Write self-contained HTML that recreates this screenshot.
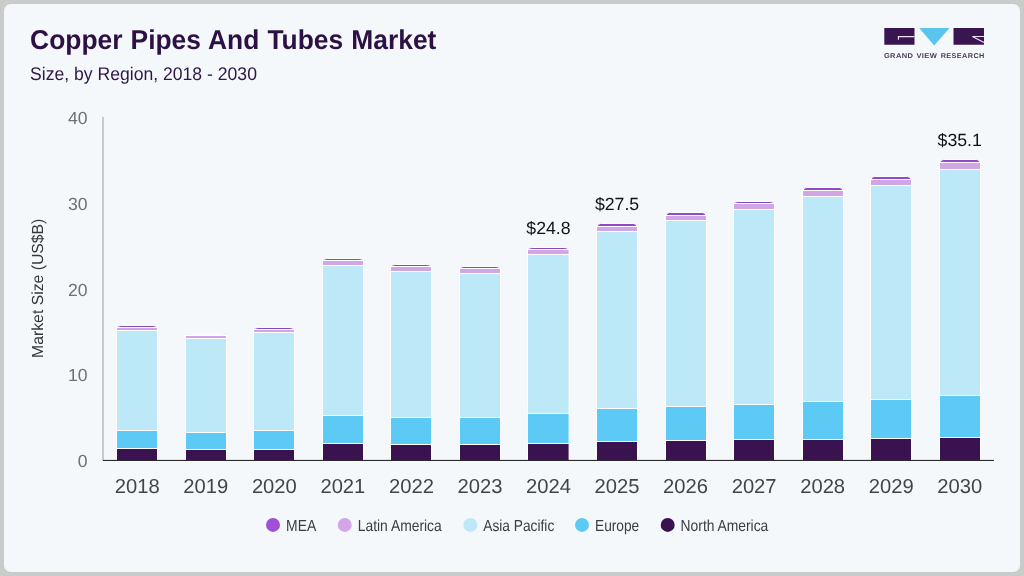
<!DOCTYPE html>
<html><head><meta charset="utf-8"><title>Copper Pipes And Tubes Market</title>
<style>
html,body{margin:0;padding:0;}
body{width:1024px;height:576px;background:#cacccc;overflow:hidden;font-family:"Liberation Sans",sans-serif;}
.card{position:absolute;left:4px;top:4px;width:1016px;height:568px;background:#f5f8fb;border-radius:7px;}
svg{position:absolute;left:0;top:0;will-change:transform;}
text{font-family:"Liberation Sans",sans-serif;text-rendering:geometricPrecision;}
</style></head><body>
<div class="card"></div>
<svg width="1024" height="576" viewBox="0 0 1024 576">
<text transform="translate(30.1,49.1) scale(1,1.033)" font-size="26.4" font-weight="bold" fill="#2c1144" word-spacing="0.75">Copper Pipes And Tubes Market</text>
<text transform="translate(30,79.8) scale(1,1.04)" font-size="17.6" fill="#2f1846">Size, by Region, 2018 - 2030</text>
<!-- logo -->
<g>
<rect x="884.3" y="27.9" width="30.2" height="16.9" rx="0.4" fill="#3a1650"/>
<path d="M914.5 36.55H898.4V39.8" fill="none" stroke="#efdff9" stroke-width="1.15"/>
<path d="M919.2 27.9H949.5L934.2 45.4Z" fill="#5bc4ee"/>
<rect x="953.5" y="27.9" width="30.5" height="16.9" rx="0.4" fill="#3a1650"/>
<path d="M984 36.5H972.4L984 42.6" fill="none" stroke="#efdff9" stroke-width="1.15"/>
<g font-size="7" font-weight="bold" fill="#4a3a5c" letter-spacing="0.35"><text x="883.9" y="57.6" textLength="29.4" lengthAdjust="spacingAndGlyphs">GRAND</text><text x="916.4" y="57.6" textLength="20.9" lengthAdjust="spacingAndGlyphs">VIEW</text><text x="940.7" y="57.6" textLength="44.0" lengthAdjust="spacingAndGlyphs">RESEARCH</text></g>
</g>
<!-- axes -->
<rect x="102" y="117" width="2" height="343.5" fill="#c6cacd"/>
<g stroke="#ffffff" stroke-width="1">
<g><path d="M117.2,327.5V327.5Q117.2,325.5 121.7,325.5H152.3Q156.8,325.5 156.8,327.5V327.5Z" fill="#8a48b8"/><rect x="116.5" y="327.5" width="41" height="3.0" fill="#d1a6e7"/><rect x="116.5" y="330.5" width="41" height="100.0" fill="#bde8f8"/><rect x="116.5" y="430.5" width="41" height="18.0" fill="#5ccaf4"/><rect x="116.5" y="448.5" width="41" height="12.0" fill="#3a1250"/></g>
<g><path d="M186.2,335.5V335.5Q186.2,334.5 190.7,334.5H221.3Q225.8,334.5 225.8,335.5V335.5Z" fill="#8a48b8"/><rect x="185.5" y="335.5" width="41" height="3.0" fill="#d1a6e7"/><rect x="185.5" y="338.5" width="41" height="94.0" fill="#bde8f8"/><rect x="185.5" y="432.5" width="41" height="17.0" fill="#5ccaf4"/><rect x="185.5" y="449.5" width="41" height="11.0" fill="#3a1250"/></g>
<g><path d="M254.2,329.5V329.5Q254.2,327.5 258.7,327.5H289.3Q293.8,327.5 293.8,329.5V329.5Z" fill="#8a48b8"/><rect x="253.5" y="329.5" width="41" height="3.0" fill="#d1a6e7"/><rect x="253.5" y="332.5" width="41" height="98.0" fill="#bde8f8"/><rect x="253.5" y="430.5" width="41" height="19.0" fill="#5ccaf4"/><rect x="253.5" y="449.5" width="41" height="11.0" fill="#3a1250"/></g>
<g><path d="M323.2,260.5V260.5Q323.2,258.5 327.7,258.5H358.3Q362.8,258.5 362.8,260.5V260.5Z" fill="#8a48b8"/><rect x="322.5" y="260.5" width="41" height="5.0" fill="#d1a6e7"/><rect x="322.5" y="265.5" width="41" height="150.0" fill="#bde8f8"/><rect x="322.5" y="415.5" width="41" height="28.0" fill="#5ccaf4"/><rect x="322.5" y="443.5" width="41" height="17.0" fill="#3a1250"/></g>
<g><path d="M391.2,266.5V266.5Q391.2,264.5 395.7,264.5H426.3Q430.8,264.5 430.8,266.5V266.5Z" fill="#8a48b8"/><rect x="390.5" y="266.5" width="41" height="5.0" fill="#d1a6e7"/><rect x="390.5" y="271.5" width="41" height="146.0" fill="#bde8f8"/><rect x="390.5" y="417.5" width="41" height="27.0" fill="#5ccaf4"/><rect x="390.5" y="444.5" width="41" height="16.0" fill="#3a1250"/></g>
<g><path d="M460.2,268.5V268.5Q460.2,266.5 464.7,266.5H495.3Q499.8,266.5 499.8,268.5V268.5Z" fill="#8a48b8"/><rect x="459.5" y="268.5" width="41" height="5.0" fill="#d1a6e7"/><rect x="459.5" y="273.5" width="41" height="144.0" fill="#bde8f8"/><rect x="459.5" y="417.5" width="41" height="27.0" fill="#5ccaf4"/><rect x="459.5" y="444.5" width="41" height="16.0" fill="#3a1250"/></g>
<g><path d="M528.2,249.5V249.5Q528.2,247.5 532.7,247.5H563.9Q568.4,247.5 568.4,249.5V249.5Z" fill="#8a48b8"/><rect x="527.5" y="249.5" width="41.6" height="5.0" fill="#d1a6e7"/><rect x="527.5" y="254.5" width="41.6" height="159.0" fill="#bde8f8"/><rect x="527.5" y="413.5" width="41.6" height="30.0" fill="#5ccaf4"/><rect x="527.5" y="443.5" width="41.6" height="17.0" fill="#3a1250"/></g>
<g><path d="M597.2,226.5V226.5Q597.2,223.5 600.7,223.5H633.3Q636.8,223.5 636.8,226.5V226.5Z" fill="#9646c8"/><rect x="596.5" y="226.5" width="41" height="5.0" fill="#d1a6e7"/><rect x="596.5" y="231.5" width="41" height="177.0" fill="#bde8f8"/><rect x="596.5" y="408.5" width="41" height="33.0" fill="#5ccaf4"/><rect x="596.5" y="441.5" width="41" height="19.0" fill="#3a1250"/></g>
<g><path d="M666.2,215.5V215.5Q666.2,212.5 669.7,212.5H702.3Q705.8,212.5 705.8,215.5V215.5Z" fill="#9646c8"/><rect x="665.5" y="215.5" width="41" height="5.0" fill="#d1a6e7"/><rect x="665.5" y="220.5" width="41" height="186.0" fill="#bde8f8"/><rect x="665.5" y="406.5" width="41" height="34.0" fill="#5ccaf4"/><rect x="665.5" y="440.5" width="41" height="20.0" fill="#3a1250"/></g>
<g><path d="M734.2,203.5V203.5Q734.2,201.5 738.7,201.5H769.3Q773.8,201.5 773.8,203.5V203.5Z" fill="#8a48b8"/><rect x="733.5" y="203.5" width="41" height="6.0" fill="#d1a6e7"/><rect x="733.5" y="209.5" width="41" height="195.0" fill="#bde8f8"/><rect x="733.5" y="404.5" width="41" height="35.0" fill="#5ccaf4"/><rect x="733.5" y="439.5" width="41" height="21.0" fill="#3a1250"/></g>
<g><path d="M803.2,190.5V190.5Q803.2,187.5 806.7,187.5H839.3Q842.8,187.5 842.8,190.5V190.5Z" fill="#9646c8"/><rect x="802.5" y="190.5" width="41" height="6.0" fill="#d1a6e7"/><rect x="802.5" y="196.5" width="41" height="205.0" fill="#bde8f8"/><rect x="802.5" y="401.5" width="41" height="38.0" fill="#5ccaf4"/><rect x="802.5" y="439.5" width="41" height="21.0" fill="#3a1250"/></g>
<g><path d="M871.2,179.5V179.5Q871.2,176.5 874.7,176.5H907.3Q910.8,176.5 910.8,179.5V179.5Z" fill="#9646c8"/><rect x="870.5" y="179.5" width="41" height="6.0" fill="#d1a6e7"/><rect x="870.5" y="185.5" width="41" height="214.0" fill="#bde8f8"/><rect x="870.5" y="399.5" width="41" height="39.0" fill="#5ccaf4"/><rect x="870.5" y="438.5" width="41" height="22.0" fill="#3a1250"/></g>
<g><path d="M940.2,162.5V162.5Q940.2,159.5 943.7,159.5H976.3Q979.8,159.5 979.8,162.5V162.5Z" fill="#9646c8"/><rect x="939.5" y="162.5" width="41" height="7.0" fill="#d1a6e7"/><rect x="939.5" y="169.5" width="41" height="226.0" fill="#bde8f8"/><rect x="939.5" y="395.5" width="41" height="42.0" fill="#5ccaf4"/><rect x="939.5" y="437.5" width="41" height="23.0" fill="#3a1250"/></g>
</g>
<rect x="103" y="459.9" width="891" height="1.1" fill="#2a2a2e"/>
<g font-size="17.6" fill="#6e7174" text-anchor="end"><text x="87.6" y="467.10">0</text><text x="87.6" y="381.35">10</text><text x="87.6" y="295.60">20</text><text x="87.6" y="209.85">30</text><text x="87.6" y="124.10">40</text></g>
<g font-size="20.2" fill="#414448" text-anchor="middle"><text x="137.27" y="492.5">2018</text><text x="205.81" y="492.5">2019</text><text x="274.35" y="492.5">2020</text><text x="342.88" y="492.5">2021</text><text x="411.42" y="492.5">2022</text><text x="479.96" y="492.5">2023</text><text x="548.50" y="492.5">2024</text><text x="617.04" y="492.5">2025</text><text x="685.58" y="492.5">2026</text><text x="754.12" y="492.5">2027</text><text x="822.65" y="492.5">2028</text><text x="891.19" y="492.5">2029</text><text x="959.73" y="492.5">2030</text></g>
<g font-size="17.7" fill="#121214" text-anchor="middle"><text x="548.50" y="233.5">$24.8</text><text x="617.04" y="210.1">$27.5</text><text x="959.73" y="145.7">$35.1</text></g>
<text transform="translate(43,288.3) rotate(-90)" font-size="16" fill="#33363b" text-anchor="middle" textLength="139.2" lengthAdjust="spacingAndGlyphs">Market Size (US$B)</text>
<g font-size="16" fill="#3a3d42"><circle cx="273" cy="524.9" r="7" fill="#a04fd6"/><text x="286.10" y="530.9" textLength="30.15" lengthAdjust="spacingAndGlyphs">MEA</text><circle cx="344.75" cy="524.9" r="7" fill="#d1a6e7"/><text x="357.75" y="530.9" textLength="84.00" lengthAdjust="spacingAndGlyphs">Latin America</text><circle cx="470.4" cy="524.9" r="7" fill="#bde8f8"/><text x="483.25" y="530.9" textLength="71.00" lengthAdjust="spacingAndGlyphs">Asia Pacific</text><circle cx="582" cy="524.9" r="7" fill="#5ccaf4"/><text x="595.00" y="530.9" textLength="44.25" lengthAdjust="spacingAndGlyphs">Europe</text><circle cx="667.7" cy="524.9" r="7" fill="#3a1250"/><text x="680.60" y="530.9" textLength="87.70" lengthAdjust="spacingAndGlyphs">North America</text></g>
</svg>
</body></html>
